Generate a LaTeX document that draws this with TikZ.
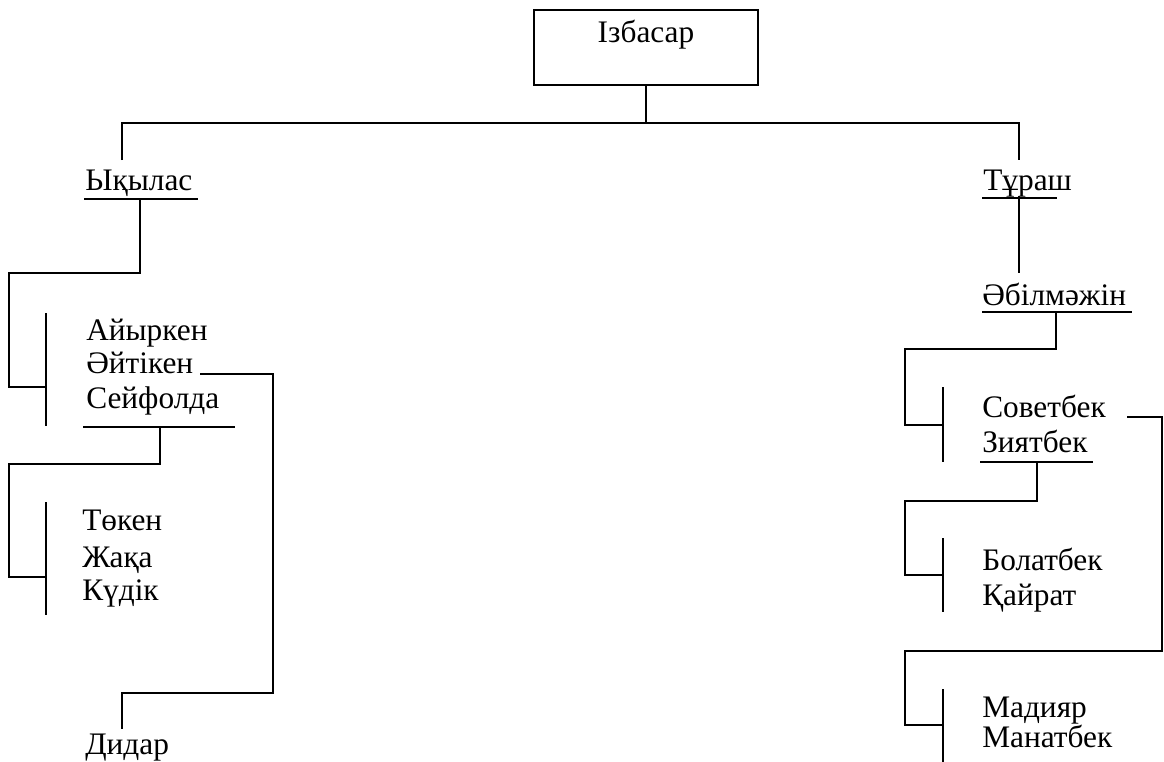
\documentclass[tikz,border=0pt]{standalone}
\usepackage{fontspec}
\setmainfont{Liberation Serif}
\begin{document}
\begin{tikzpicture}[x=0.75pt,y=-0.75pt,
  ln/.style={line width=1.5pt},
  nm/.style={anchor=base west,inner sep=0pt,font=\fontsize{23.5}{28}\selectfont},
  boxst/.style={draw,line width=1.5pt,minimum width=168pt,minimum height=56.25pt,inner sep=0pt}]
\useasboundingbox (0,0) rectangle (1164,761);
% root
\node[boxst] (izb) at (646,47.5) {};
\node[nm,anchor=base] (izbt) at (646,42) {Ізбасар};
% names
\node[nm] (yk) at (85,190) {Ықылас};
\node[nm] (tu) at (983,190) {Тұраш};
\node[nm] (ab) at (982,305) {Әбілмәжін};
\node[nm] (ay) at (86,340) {Айыркен};
\node[nm] (ai) at (86,373) {Әйтікен};
\node[nm] (se) at (86,408) {Сейфолда};
\node[nm] (tk) at (82,530) {Төкен};
\node[nm] (zh) at (82,567) {Жақа};
\node[nm] (ku) at (82,600) {Күдік};
\node[nm] (di) at (85,754) {Дидар};
\node[nm] (so) at (982,417) {Советбек};
\node[nm] (zi) at (982,452) {Зиятбек};
\node[nm] (bo) at (982,570) {Болатбек};
\node[nm] (ka) at (982,605) {Қайрат};
\node[nm] (ma) at (982,717) {Мадияр};
\node[nm] (mn) at (982,747) {Манатбек};
% key points
\coordinate (top) at (646,123);
\coordinate (ykT) at (122,160);
\coordinate (tuT) at (1019,160);
% underlines
\draw[ln] (84,199) coordinate (ykL) -- (198,199) coordinate (ykR);
\draw[ln] (982,198) coordinate (tuL) -- (1057,198) coordinate (tuR);
\draw[ln] (982,312) coordinate (abL) -- (1132,312) coordinate (abR);
\draw[ln] (83,427) coordinate (seL) -- (235,427) coordinate (seR);
\draw[ln] (980,462) coordinate (ziL) -- (1093,462) coordinate (ziR);
% brackets
\draw[ln] (46,313) coordinate (b1t) -- (46,426) coordinate (b1b);
\draw[ln] (46,502) coordinate (b2t) -- (46,615) coordinate (b2b);
\draw[ln] (943,387) coordinate (b3t) -- (943,462) coordinate (b3b);
\draw[ln] (943,538) coordinate (b4t) -- (943,612) coordinate (b4b);
\draw[ln] (943,689) coordinate (b5t) -- (943,765) coordinate (b5b);
% connectors
\draw[ln] (izb.south) -- (top);
\draw[ln] (ykT) |- (top) -| (tuT);
\draw[ln] (140,199) -- (140,273) -| (9,387) -- (46,387);
\draw[ln] (200,374) -- (273,374) -- (273,693) -| (122,729);
\draw[ln] (160,427) -- (160,464) -| (9,577) -- (46,577);
\draw[ln] (1019,196) -- (1019,273);
\draw[ln] (1056,312) -- (1056,349) -| (905,425) -- (943,425);
\draw[ln] (1127,417) -- (1162,417) -- (1162,651) -- (905,651) -- (905,725) -- (943,725);
\draw[ln] (1037,462) -- (1037,501) -| (905,575) -- (943,575);
\end{tikzpicture}
\end{document}
